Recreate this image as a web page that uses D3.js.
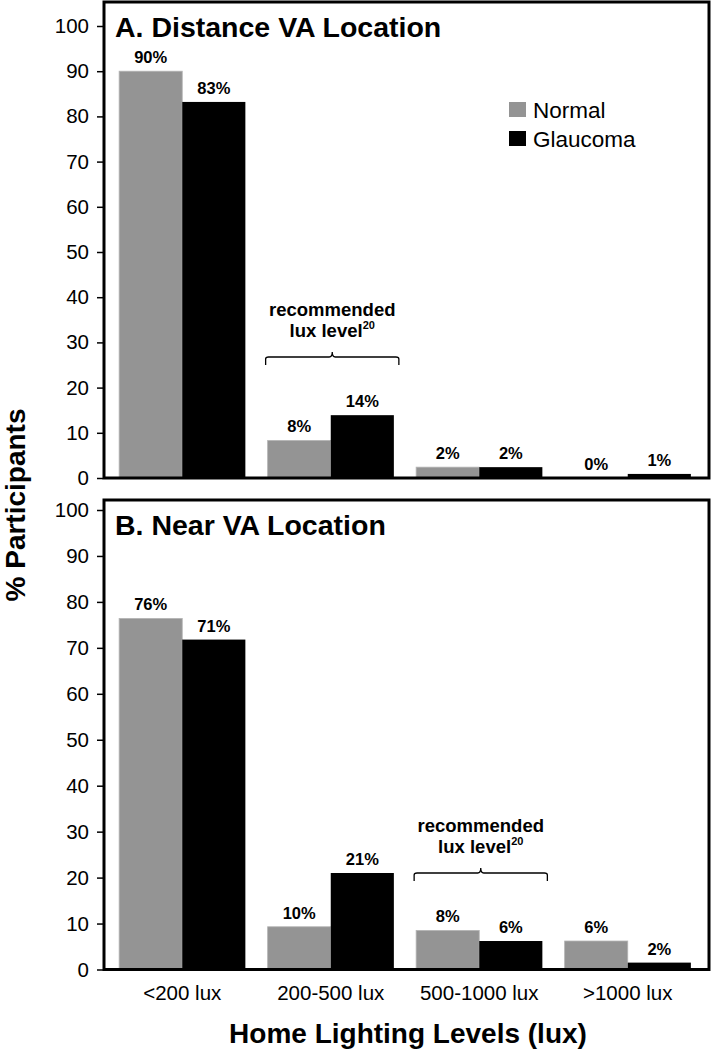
<!DOCTYPE html>
<html><head><meta charset="utf-8">
<script src="https://cdn.jsdelivr.net/npm/d3@7"></script>
<style>body{margin:0;background:#fff}svg{display:block}text{font-family:"Liberation Sans",Arial,sans-serif}</style>
</head><body>
<script>
const categories = ["<200 lux", "200-500 lux", "500-1000 lux", ">1000 lux"];
const seriesNames = ["Normal", "Glaucoma"];
const seriesColors = ["#949494", "#000000"];
const distanceNormal = [90, 8.3, 2.4, 0];
const distanceGlaucoma = [83.2, 13.9, 2.4, 0.9];
const distanceNormalLabels = ["90%", "8%", "2%", "0%"];
const distanceGlaucomaLabels = ["83%", "14%", "2%", "1%"];
const nearNormal = [76.4, 9.3, 8.5, 6.2];
const nearGlaucoma = [71.8, 21, 6.2, 1.5];
const nearNormalLabels = ["76%", "10%", "8%", "6%"];
const nearGlaucomaLabels = ["71%", "21%", "6%", "2%"];
const yTicks = [0, 10, 20, 30, 40, 50, 60, 70, 80, 90, 100];

const W = 712, H = 1050;
const svg = d3.select("body").append("svg").attr("width", W).attr("height", H);

const frameL = 104, frameR = 709;
const x0 = d3.scaleBand().domain(categories).range([108, 702]).paddingInner(0.15).paddingOuter(0.075);
const x1 = d3.scaleBand().domain(seriesNames).range([0, x0.bandwidth()]);

const panels = [
  {title: "A. Distance VA Location", top: 2, y0: 478, y100: 26, vals: [distanceNormal, distanceGlaucoma],
   labels: [distanceNormalLabels, distanceGlaucomaLabels], brace: "200-500 lux", braceY: 357, legend: true},
  {title: "B. Near VA Location", top: 500, y0: 969.5, y100: 510, vals: [nearNormal, nearGlaucoma],
   labels: [nearNormalLabels, nearGlaucomaLabels], brace: "500-1000 lux", braceY: 873, legend: false}
];

panels.forEach(p => {
  const y = d3.scaleLinear().domain([0, 100]).range([p.y0, p.y100]);
  const g = svg.append("g");
  seriesNames.forEach((s, si) => {
    g.selectAll(null).data(categories).enter().append("rect")
      .attr("x", c => x0(c) + x1(s))
      .attr("width", x1.bandwidth())
      .attr("y", (c, i) => y(p.vals[si][i]))
      .attr("height", (c, i) => y(0) - y(p.vals[si][i]))
      .attr("fill", seriesColors[si])
      .attr("stroke", si === 0 ? "#b4b4b4" : "none").attr("stroke-width", 0.8);
    g.selectAll(null).data(categories).enter().append("text")
      .attr("x", c => x0(c) + x1(s) + x1.bandwidth() / 2)
      .attr("y", (c, i) => y(p.vals[si][i]) - 8)
      .attr("text-anchor", "middle")
      .attr("font-size", 16.5).attr("font-weight", "bold")
      .text((c, i) => p.labels[si][i]);
  });
  g.append("rect").attr("x", frameL).attr("y", p.top)
    .attr("width", frameR - frameL).attr("height", y(0) - p.top)
    .attr("fill", "none").attr("stroke", "#000").attr("stroke-width", 3);
  const ax = g.append("g").attr("transform", `translate(${frameL - 1},0)`)
    .call(d3.axisLeft(y).tickValues(yTicks).tickSize(6).tickPadding(8).tickFormat(d3.format("d")));
  ax.select(".domain").remove();
  ax.selectAll("line").attr("stroke", "#000").attr("stroke-width", 1.5);
  ax.selectAll("text").attr("font-size", 20.5).attr("fill", "#000")
    .style("font-family", '"Liberation Sans",Arial,sans-serif');
  g.append("text").attr("x", 115).attr("y", p.top + 35)
    .attr("font-size", 28.5).attr("font-weight", "bold").text(p.title);
  const bx0 = x0(p.brace) - 2, bx1 = x0(p.brace) + x0.bandwidth() + 5, bm = (bx0 + bx1) / 2, by = p.braceY;
  g.append("path")
    .attr("d", `M${bx0},${by + 8} L${bx0},${by + 2} Q${bx0},${by} ${bx0 + 3},${by} L${bm - 3},${by} Q${bm},${by} ${bm},${by - 5} Q${bm},${by} ${bm + 3},${by} L${bx1 - 3},${by} Q${bx1},${by} ${bx1},${by + 2} L${bx1},${by + 8}`)
    .attr("fill", "none").attr("stroke", "#000").attr("stroke-width", 1.3);
  g.append("text").attr("x", bm).attr("y", by - 41).attr("text-anchor", "middle")
    .attr("font-size", 18.5).attr("font-weight", "bold").text("recommended");
  const t2 = g.append("text").attr("x", bm).attr("y", by - 20).attr("text-anchor", "middle")
    .attr("font-size", 18.5).attr("font-weight", "bold");
  t2.append("tspan").text("lux level");
  t2.append("tspan").attr("dy", -8).attr("font-size", 11).text("20");
  if (p.legend) {
    seriesNames.forEach((s, si) => {
      g.append("rect").attr("x", 509).attr("y", 102 + si * 29).attr("width", 17).attr("height", 15)
        .attr("fill", seriesColors[si]);
      g.append("text").attr("x", 533).attr("y", 118 + si * 29).attr("font-size", 22.5).text(s);
    });
  }
});

svg.append("g").selectAll("text").data(categories).enter().append("text")
  .attr("x", c => x0(c) + x0.bandwidth() / 2).attr("y", 1000)
  .attr("text-anchor", "middle").attr("font-size", 20.5).text(c => c);

svg.append("text").attr("x", 408).attr("y", 1043).attr("text-anchor", "middle")
  .attr("font-size", 28).attr("font-weight", "bold").text("Home Lighting Levels (lux)");

svg.append("text").attr("transform", "translate(25,505) rotate(-90)").attr("text-anchor", "middle")
  .attr("font-size", 28).attr("font-weight", "bold").text("% Participants");
</script>
</body></html>
